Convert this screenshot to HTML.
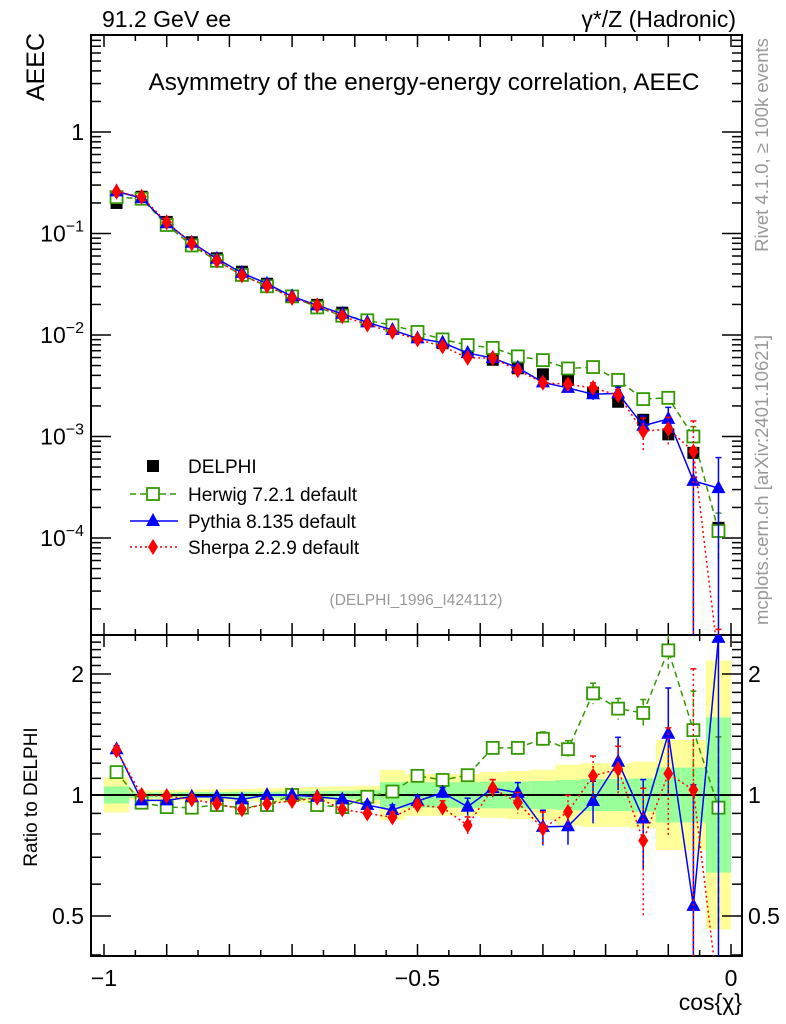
<!DOCTYPE html>
<html><head><meta charset="utf-8"><style>
html,body{margin:0;padding:0;background:#fff;overflow:hidden;width:786px;height:1024px;}
svg{display:block;font-family:"Liberation Sans",sans-serif;}
</style></head><body>
<svg id="chart" width="786" height="1024" viewBox="0 0 786 1024" xmlns="http://www.w3.org/2000/svg">
<g id="bands"></g>
<g id="grid"></g>
<g id="series"></g>
<text x="102" y="27" font-size="23">91.2 GeV ee</text>
<text x="736" y="27" font-size="23" text-anchor="end">γ*/Z (Hadronic)</text>
<text x="424" y="90" font-size="24.3" text-anchor="middle">Asymmetry of the energy-energy correlation, AEEC</text>
<text transform="translate(44,67) rotate(-90)" font-size="25" text-anchor="middle">AEEC</text>
<text transform="translate(37,797) rotate(-90)" font-size="19" text-anchor="middle">Ratio to DELPHI</text>
<text x="742" y="1010" font-size="23" text-anchor="end">cos{χ}</text>
<text transform="translate(768,145) rotate(-90)" font-size="18.5" fill="#999" text-anchor="middle">Rivet 4.1.0, ≥ 100k events</text>
<text transform="translate(768,480) rotate(-90)" font-size="18.5" fill="#999" text-anchor="middle">mcplots.cern.ch [arXiv:2401.10621]</text>
<text x="416" y="605" font-size="15.5" fill="#999" text-anchor="middle">(DELPHI_1996_I424112)</text>
<g id="legend"></g>
</svg>
<script>
const xCenters=[-0.98,-0.94,-0.90,-0.86,-0.82,-0.78,-0.74,-0.70,-0.66,-0.62,-0.58,-0.54,-0.50,-0.46,-0.42,-0.38,-0.34,-0.30,-0.26,-0.22,-0.18,-0.14,-0.10,-0.06,-0.02];
const dataVals=[0.20,0.23,0.13,0.082,0.057,0.042,0.032,0.024,0.0198,0.0166,0.0141,0.0122,0.0096,0.0083,0.0071,0.0057,0.0047,0.0041,0.0036,0.0027,0.0022,0.00146,0.00105,0.00069,0.000126];
const bandTot=[.105,.027,.029,.031,.033,.035,.039,.043,.047,.051,.055,.155,.127,.127,.127,.14,.148,.155,.19,.2,.2,.21,.37,.37,1.16];
const bandStat=[.05,.015,.015,.017,.017,.019,.019,.021,.023,.025,.027,.076,.076,.076,.076,.08,.08,.084,.09,.096,.096,.10,.17,.17,.56];
const herwigRatio=[1.14,.957,.933,.93,.944,.93,.944,1.0,.944,.933,.99,1.02,1.116,1.09,1.12,1.31,1.31,1.38,1.30,1.79,1.64,1.60,2.29,1.45,.93];
const pythiaRatio=[1.30,.97,.97,.99,.99,.975,1.0,1.0,.99,.975,.944,.917,.966,1.013,.935,1.04,1.013,.833,.836,.966,1.21,.874,1.42,.53,2.46];
const sherpaRatio=[1.29,1.0,.994,.975,.951,.921,.951,.966,.985,.921,.90,.88,.944,.93,.84,1.04,.957,.825,.908,1.116,1.16,.77,1.13,1.03,0.05];
const herwigErr=[.02,.01,.01,.01,.01,.01,.01,.01,.01,.01,.01,.02,.02,.02,.03,.03,.03,.04,.05,.06,.06,.08,.1,.25,.5];
const pythiaErr=[.02,.01,.01,.01,.01,.01,.01,.01,.01,.01,.02,.03,.03,.03,.05,.05,.06,.1,.1,.12,.15,.25,.3,1.0,1.0];
const sherpaErr=[.02,.01,.01,.01,.01,.01,.01,.01,.01,.01,.02,.03,.03,.04,.05,.05,.06,.1,.1,.12,.14,.35,.3,1.0,1.0];
const xTickLabels=["−1","−0.5","0"];
const xTickVals=[-1,-0.5,0];
const mainTickExp=[0,-1,-2,-3,-4];
const ratioTickVals=[2,1,0.5];
const ratioTickLabels=["2","1","0.5"];

const NS="http://www.w3.org/2000/svg";
const L=91,R=742,T=35,MB=635,RB=956;
const X=v=>104+(v+1)*627;
const Ym=v=>132-Math.log10(v)*101.5;
const Yr=v=>795-Math.log2(v)*121;
function mk(tag,attrs,parent){const e=document.createElementNS(NS,tag);for(const k in attrs)e.setAttribute(k,attrs[k]);parent.appendChild(e);return e;}
const gB=document.getElementById('bands'),gG=document.getElementById('grid'),gS=document.getElementById('series'),gL=document.getElementById('legend');

const defs=mk('defs',{},document.getElementById('chart'));
const cm=mk('clipPath',{id:'cmain'},defs);mk('rect',{x:L,y:T,width:R-L,height:MB-T},cm);
const cr=mk('clipPath',{id:'cratio'},defs);mk('rect',{x:L,y:MB,width:R-L,height:RB-MB},cr);
gB.setAttribute('clip-path','url(#cratio)');

xCenters.forEach((c,i)=>{
  const x0=X(c-0.02),x1=X(c+0.02);
  const yt=Math.max(Yr(1+bandTot[i]),MB),yb=Math.min(Yr(1/(1+bandTot[i])),RB);
  let r=mk('rect',{x:x0,y:yt,width:x1-x0,height:yb-yt,fill:'#ffff99'},gB);
  
  
  r=mk('rect',{x:x0,y:Yr(1+bandStat[i]),width:x1-x0,height:Yr(1/(1+bandStat[i]))-Yr(1+bandStat[i]),fill:'#99ff99'},gB);
  
  
});
let ln=mk('line',{x1:L,x2:R,y1:Yr(1),y2:Yr(1),stroke:'#000','stroke-width':2},gB);



[[T,MB],[MB,RB]].forEach(([a,b])=>{const f=mk('rect',{x:L,y:a,width:R-L,height:b-a,fill:'none',stroke:'#000','stroke-width':2},gG);});
for(let k=0;k<=20;k++){const v=-1+k*0.05;const x=X(v);const len=(k%2==0)?12:6;
  [[MB,-1],[T,1],[RB,-1],[MB,1]].forEach(([y,d])=>mk('line',{x1:x,x2:x,y1:y,y2:y+d*len,stroke:'#000','stroke-width':1.5},gG));}
xTickVals.forEach((v,i)=>{const t=mk('text',{x:X(v),y:986,'font-size':23,'text-anchor':'middle'},gG);t.textContent=xTickLabels[i];});
for(let e=-5;e<=0;e++){for(let m=1;m<=9;m++){const v=m*Math.pow(10,e);const y=Ym(v);if(y<T||y>MB)continue;const len=m==1?20:10;
  mk('line',{x1:L,x2:L+len,y1:y,y2:y,stroke:'#000','stroke-width':1.5},gG);mk('line',{x1:R,x2:R-len,y1:y,y2:y,stroke:'#000','stroke-width':1.5},gG);}}
mainTickExp.forEach(e=>{const y=Ym(Math.pow(10,e));const t=mk('text',{x:84,y:y+8,'font-size':23,'text-anchor':'end'},gG);
  
  if(e==0)t.textContent='1';else{t.textContent='10';const s=mk('tspan',{dy:-10,'font-size':16},t);s.textContent=String(e).replace('-','−');}});
for(let k=4;k<=24;k++){const v=k/10;const y=Yr(v);if(y<MB||y>RB)continue;const major=(k==5||k==10||k==20);const len=major?20:10;
  mk('line',{x1:L,x2:L+len,y1:y,y2:y,stroke:'#000','stroke-width':1.5},gG);mk('line',{x1:R,x2:R-len,y1:y,y2:y,stroke:'#000','stroke-width':1.5},gG);}
ratioTickVals.forEach((v,i)=>{const y=Yr(v)+8;
  let t=mk('text',{x:84,y:y,'font-size':23,'text-anchor':'end'},gG);t.textContent=ratioTickLabels[i];
  t=mk('text',{x:748,y:y,'font-size':23},gG);t.textContent=ratioTickLabels[i];});

function marker(type,x,y,col,parent){
  if(type=='sq')return mk('rect',{x:x-6,y:y-6,width:12,height:12,fill:'#000'},parent);
  if(type=='osq')return mk('rect',{x:x-6,y:y-6,width:12,height:12,fill:'#fff',stroke:col,'stroke-width':1.8},parent);
  if(type=='tri')return mk('polygon',{points:`${x},${y-8} ${x-7},${y+5} ${x+7},${y+5}`,fill:col},parent);
  return mk('polygon',{points:`${x},${y-8} ${x-5},${y} ${x},${y+8} ${x+5},${y}`,fill:col},parent);
}
const series=[
  {name:'herwig',r:herwigRatio,e:herwigErr,col:'#339900',m:'osq',dash:'6,4'},
  {name:'pythia',r:pythiaRatio,e:pythiaErr,col:'#0000ff',m:'tri',dash:''},
  {name:'sherpa',r:sherpaRatio,e:sherpaErr,col:'#ff0000',m:'dia',dash:'2,3'}];
const gMain=mk('g',{'clip-path':'url(#cmain)'},gS),gRat=mk('g',{'clip-path':'url(#cratio)'},gS);
xCenters.forEach((c,i)=>{const p=marker('sq',X(c),Ym(dataVals[i]),'#000',gMain);});
series.forEach(s=>{
  const vals=s.r.map((r,i)=>r*dataVals[i]);
  [[gMain,vals,Ym,MB],[gRat,s.r,Yr,RB]].forEach(([g,v,Y,bot])=>{
    const pts=xCenters.map((c,i)=>`${X(c)},${Math.min(Y(v[i]),bot+40)}`).join(' ');
    const pl=mk('polyline',{points:pts,fill:'none',stroke:s.col,'stroke-width':1.5,'stroke-dasharray':s.dash},g);
    
    
    xCenters.forEach((c,i)=>{const x=X(c);
      const hi=Y(v[i]*(1+s.e[i])),lo=Y(Math.max(v[i]*(1-s.e[i]),1e-9));
      if(lo-hi>6){mk('line',{x1:x,x2:x,y1:Math.max(hi,T),y2:Math.min(lo,bot),stroke:s.col,'stroke-width':1.5,'stroke-dasharray':s.dash},g);
        mk('line',{x1:x-3,x2:x+3,y1:hi,y2:hi,stroke:s.col,'stroke-width':1.5},g);}
      const p=marker(s.m,x,Math.min(Y(v[i]),bot+40),s.col,g);
      
      });
  });
});
const legRows=[{t:'DELPHI',m:'sq',col:'#000',dash:null},{t:'Herwig 7.2.1 default',m:'osq',col:'#339900',dash:'6,4'},{t:'Pythia 8.135 default',m:'tri',col:'#0000ff',dash:''},{t:'Sherpa 2.2.9 default',m:'dia',col:'#ff0000',dash:'2,3'}];
const legY=[466,494,521,547];
legRows.forEach((r,i)=>{const y=legY[i];
  const g=mk('g',{},gL);
  if(r.dash!==null)mk('line',{x1:130,x2:178,y1:y,y2:y,stroke:r.col,'stroke-width':1.5,'stroke-dasharray':r.dash},g);
  marker(r.m,153,y,r.col,g);
  const t=mk('text',{x:188,y:y+7,'font-size':19},g);t.textContent=r.t;});
</script>
</body></html>
